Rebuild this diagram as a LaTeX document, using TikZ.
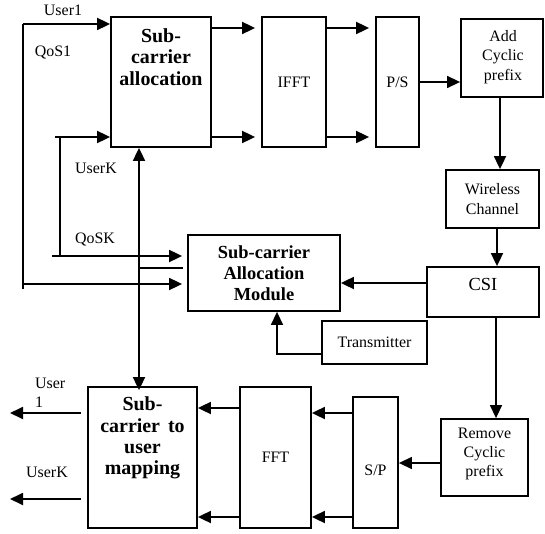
\documentclass[tikz,border=0pt]{standalone}
\usepackage{fontspec}
\setmainfont{Liberation Serif}
\usetikzlibrary{arrows.meta}
\begin{document}
\begin{tikzpicture}[x=1bp,y=-1bp,
  box/.style={draw, line width=1.8bp, inner sep=0pt},
  nt/.style={font=\fontsize{16}{19.5}\selectfont, align=center, inner sep=0pt},
  bt/.style={font=\fontsize{18.5}{21}\selectfont\bfseries, align=center, inner sep=0pt},
  bbt/.style={font=\fontsize{20}{21.5}\selectfont\bfseries, align=center, inner sep=0pt},
  arr/.style={line width=1.8bp, -{Triangle[length=13bp,width=12bp]}},
  darr/.style={line width=1.8bp, {Triangle[length=13bp,width=12bp]}-{Triangle[length=13bp,width=12bp]}},
  thinarr/.style={line width=1.4bp, -{Triangle[length=13bp,width=12bp]}},
  ln/.style={line width=1.8bp},
]
\useasboundingbox (0,0) rectangle (545,534);

% boxes
\node[box, minimum width=100bp, minimum height=130bp] (sca) at (161,82) {};
\node[bbt] (scat) at (161,57) {Sub-\\carrier\\allocation};
\node[box, nt, minimum width=64bp, minimum height=130bp] (ifft) at (294,82) {IFFT};
\node[box, nt, minimum width=43bp, minimum height=130bp] (ps) at (397.5,82) {P/S};
\node[box, minimum width=82bp, minimum height=78bp] (add) at (502,58) {};
\node[nt] (addt) at (503,57) {Add\\Cyclic\\prefix};
\node[box, nt, minimum width=93bp, minimum height=58bp] (wc) at (492.5,199) {Wireless\\Channel};
\node[box, minimum width=112bp, minimum height=50bp] (csi) at (483,292) {};
\node[nt, font=\fontsize{18.5}{21}\selectfont] (csit) at (483,284) {CSI};
\node[box, bt, minimum width=152bp, minimum height=76bp] (sam) at (264,273) {Sub-carrier\\Allocation\\Module};
\node[box, nt, minimum width=105bp, minimum height=43bp] (tx) at (374.5,342.5) {Transmitter};
\node[box, minimum width=87bp, minimum height=77bp] (rcp) at (484.5,457.5) {};
\node[nt] (rcpt) at (484.5,454) {Remove\\Cyclic\\prefix};
\node[box, minimum width=45bp, minimum height=131bp] (sp) at (375.5,462.5) {};
\node[nt] (spt) at (375.5,470) {S/P};
\node[box, nt, minimum width=71bp, minimum height=141bp] (fft) at (275.5,457.5) {FFT};
\node[box, minimum width=109bp, minimum height=141bp] (scum) at (142.5,457.5) {};
\node[bbt] (scumt) at (142.5,438) {Sub-\\carrier\hspace{0.4em}to\\user\\mapping};

% labels
\node[nt] (lu1) at (63,10) {User1};
\node[nt] (lq1) at (53,53) {QoS1};
\node[nt] (luk) at (96,168) {UserK};
\node[nt] (lqk) at (95,240) {QoSK};
\node[nt, align=left, anchor=west] (lout1) at (35,393) {User\\1};
\node[nt] (loutk) at (47,472) {UserK};

% coordinates
\coordinate (u1) at (23,24);
\coordinate (u1b) at (23,289);
\coordinate (qs1) at (23,284);
\coordinate (uk) at (55,137);
\coordinate (ukv) at (60,137);
\coordinate (ukb) at (60,257);
\coordinate (qsk) at (52,256);
\coordinate (vx) at (139,0);
\coordinate (mid) at (139,268);
\coordinate (midend) at (183,268);
\coordinate (o1) at (10,413);
\coordinate (ok) at (10,499);

% left inputs
\draw[ln] (u1b) -- (u1);
\draw[arr] (u1) -- (u1 -| sca.west);
\draw[arr] (qs1) -- ([xshift=-5bp]qs1 -| sam.west);
\draw[arr] (uk) -- (uk -| sca.west);
\draw[ln] (ukv) -- (ukb);
\draw[arr] (qsk) -- ([xshift=-5bp]qsk -| sam.west);
\draw[ln] (mid) -- (midend);
\draw[darr] (sca.south -| vx) -- ([yshift=-4bp]scum.north -| vx);

% transmitter chain
\draw[arr] (sca.east |- 0,28) -- ([xshift=-6bp]ifft.west |- 0,28);
\draw[arr] (sca.east |- 0,137) -- ([xshift=-6bp]ifft.west |- 0,137);
\draw[arr] (ifft.east |- 0,28) -- ([xshift=-6bp]ps.west |- 0,28);
\draw[arr] (ifft.east |- 0,137) -- ([xshift=-6bp]ps.west |- 0,137);
\draw[thinarr] (ps.east |- 0,82) -- (add.west |- 0,82);
\draw[arr] (add.south -| 500,0) -- (wc.north -| 500,0);
\draw[arr] (wc.south -| 497,0) -- (csi.north -| 497,0);
\draw[arr] (csi.west |- 0,283) -- (sam.east |- 0,283);
\draw[thinarr] (tx.west |- 0,354) -| (sam.south -| 277,0);
\draw[thinarr] (csi.south -| 496,0) -- (rcp.north -| 496,0);

% receiver chain
\draw[thinarr] (rcp.west |- 0,463) -- (sp.east |- 0,463);
\draw[arr] (sp.west |- 0,413) -- (fft.east |- 0,413);
\draw[arr] (sp.west |- 0,517) -- (fft.east |- 0,517);
\draw[arr] (fft.west |- 0,408) -- (scum.east |- 0,408);
\draw[arr] (fft.west |- 0,517) -- (scum.east |- 0,517);
\draw[arr] ([xshift=-6bp]scum.west |- o1) -- (o1);
\draw[arr] ([xshift=-6bp]scum.west |- ok) -- (ok);
\end{tikzpicture}
\end{document}
